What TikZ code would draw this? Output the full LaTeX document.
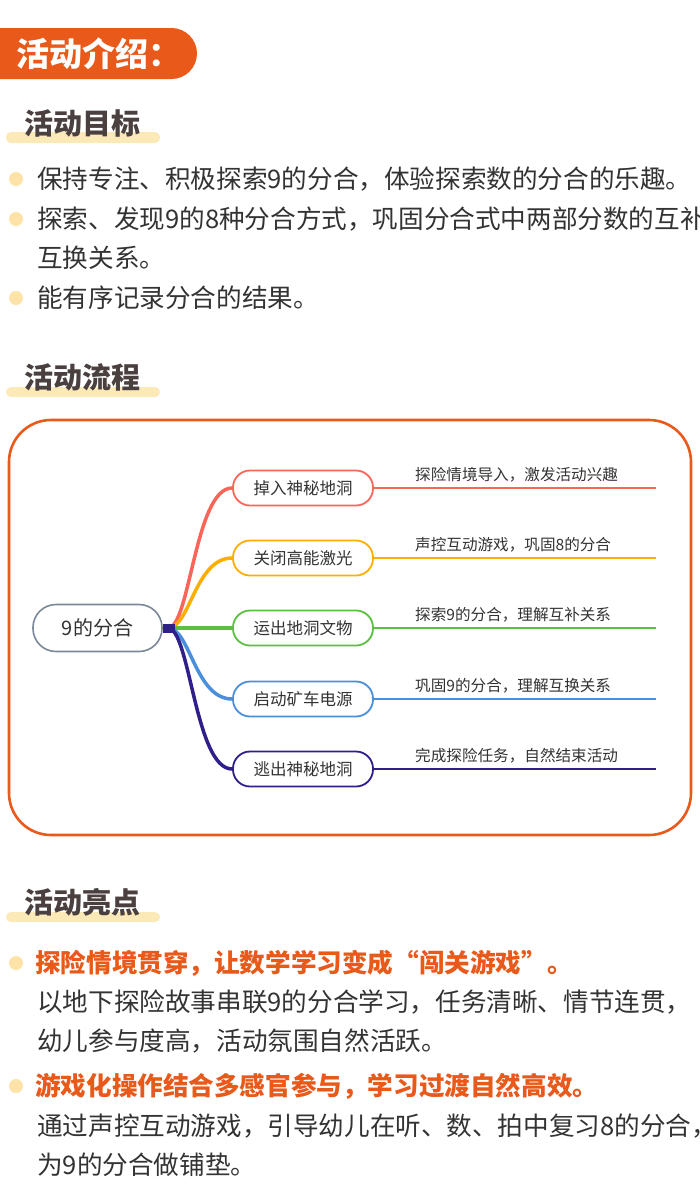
\documentclass[tikz,border=0pt]{standalone}
\usepackage{fontspec}
\setmainfont{Noto Sans CJK SC}
\definecolor{org}{HTML}{E8591A}
\definecolor{hl}{HTML}{FCE9B8}
\definecolor{dot}{HTML}{FDE3A7}
\definecolor{txt}{HTML}{333333}
\definecolor{hd}{HTML}{4A4040}
\definecolor{cC}{HTML}{7A8899}
\definecolor{cR}{HTML}{F8665A}
\definecolor{cO}{HTML}{FFAD00}
\definecolor{cG}{HTML}{5BBF3F}
\definecolor{cB}{HTML}{4A8FDC}
\definecolor{cN}{HTML}{2E1F8A}
\begin{document}
\begin{tikzpicture}[x=1pt,y=-1pt,
  body/.style={anchor=west,inner sep=0,font=\fontsize{25.6}{28}\selectfont,text=txt},
  hot/.style={anchor=west,inner sep=0,font=\fontsize{25.6}{28}\selectfont\bfseries,text=org},
  head/.style={anchor=west,inner sep=0,font=\fontsize{29}{31}\selectfont\bfseries,text=hd},
  bdot/.style={circle,fill=dot,minimum size=14pt,inner sep=0},
  br/.style={draw=#1,line width=1.8pt,rounded corners=17pt,minimum width=140pt,minimum height=35pt,inner sep=0,font=\fontsize{16.5}{18}\selectfont,text=txt,fill=white},
  lab/.style={anchor=south west,inner sep=0,font=\fontsize{15.6}{17}\selectfont,text=txt}]
\useasboundingbox (0,0) rectangle (700,1203);
\fill[white] (0,0) rectangle (700,1203);
% header
\fill[org,rounded corners=25.5pt] (-40,28) rectangle (197,79);
\node[anchor=west,inner sep=0,text=white,font=\fontsize{33}{35}\selectfont\bfseries] (t0) at (16,54) {活动介绍：};
% headings
\fill[hl,rounded corners=5pt] (6,132) rectangle (160,143);
\node[head] (h1) at (24,123) {活动目标};
\fill[hl,rounded corners=5pt] (6,387) rectangle (160,397);
\node[head] (h2) at (24,377) {活动流程};
\fill[hl,rounded corners=5pt] (6,912) rectangle (160,922);
\node[head] (h3) at (24,902) {活动亮点};
% goals
\node[bdot] (d1) at (16,179) {};
\node[body] (g1) at (37,179) {保持专注、积极探索9的分合，体验探索数的分合的乐趣。};
\node[bdot] (d2) at (16,219) {};
\node[body] (g2) at (37,219) {探索、发现9的8种分合方式，巩固分合式中两部分数的互补};
\node[body] (g2b) at (37,258) {互换关系。};
\node[bdot] (d3) at (16,298) {};
\node[body] (g3) at (37,298) {能有序记录分合的结果。};
% mindmap frame
\draw[org,line width=2.6pt,rounded corners=42pt] (9,420) rectangle (691,835);
\node[draw=cC,line width=1.6pt,rounded corners=23pt,minimum width=129pt,minimum height=47pt,font=\fontsize{20}{22}\selectfont,text=txt] (c) at (97.5,628) {9的分合};
\coordinate (hub) at (168,628);
\foreach \n/\y/\col/\t/\l in {a/488/cR/掉入神秘地洞/探险情境导入，激发活动兴趣,
  b/558/cO/关闭高能激光/声控互动游戏，巩固8的分合,
  g/628/cG/运出地洞文物/探索9的分合，理解互补关系,
  u/699/cB/启动矿车电源/巩固9的分合，理解互换关系,
  n/769/cN/逃出神秘地洞/完成探险任务，自然结束活动}{
  \node[br=\col] (\n) at (303,\y) {\t};
  \coordinate (\n e) at (656,\y);
  \draw[\col,line width=1.5pt] (\n.east) -- (\n e);
  \node[lab] (\n l) at (415,\y-6) {\l};
  \draw[\col,line width=3.5pt] (hub) .. controls (190,628) and (195,\y) .. (\n.west);
}
\fill[cN] (163,624) rectangle (175,633);
% highlights
\node[bdot] (d4) at (16,963) {};
\node[hot] (p1) at (35,963) {探险情境贯穿，让数学学习变成“闯关游戏”。};
\node[body] (p1a) at (37,1002) {以地下探险故事串联9的分合学习，任务清晰、情节连贯，};
\node[body] (p1b) at (37,1041) {幼儿参与度高，活动氛围自然活跃。};
\node[bdot] (d5) at (16,1086) {};
\node[hot] (p2) at (35,1086) {游戏化操作结合多感官参与，学习过渡自然高效。};
\node[body] (p2a) at (37,1126) {通过声控互动游戏，引导幼儿在听、数、拍中复习8的分合，};
\node[body] (p2b) at (37,1165) {为9的分合做铺垫。};
\end{tikzpicture}
\end{document}
